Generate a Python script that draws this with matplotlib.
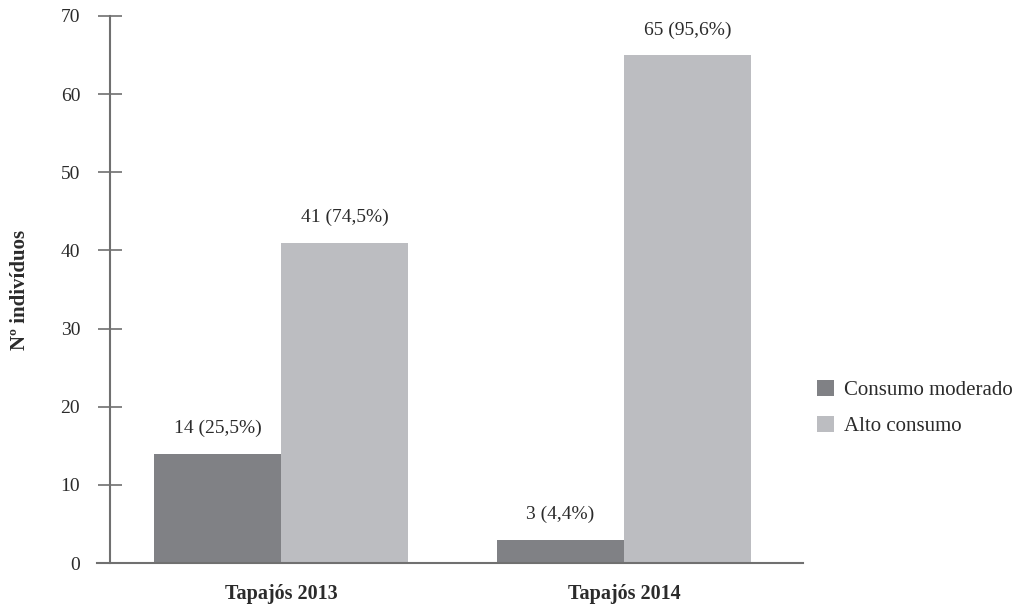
import numpy as np
import matplotlib
matplotlib.use("Agg")
import matplotlib.pyplot as plt

plt.rcParams['font.family'] = ['Liberation Serif', 'DejaVu Serif']

groups = ["Tapajós 2013", "Tapajós 2014"]
series = ["Consumo moderado", "Alto consumo"]
moderado = [14, 3]
alto = [41, 65]
moderado_pct = ["25,5%", "4,4%"]
alto_pct = ["74,5%", "95,6%"]

cores = ["#808185", "#bcbdc1"]
texto = "#2b2b2b"
eixo = "#707070"

fig = plt.figure(figsize=(10.25, 6.06), dpi=100)
ax = fig.add_axes([110 / 1025, 1 - 563 / 606, (803 - 110) / 1025, (563 - 16) / 606])

x = np.arange(len(groups))
w = 0.37
b1 = ax.bar(x - w / 2, moderado, w, color=cores[0], label=series[0], zorder=2)
b2 = ax.bar(x + w / 2, alto, w, color=cores[1], label=series[1], zorder=2)

# rótulos com valor e percentual acima das barras
for bars, vals, pcts in [(b1, moderado, moderado_pct), (b2, alto, alto_pct)]:
    for bar, v, p in zip(bars, vals, pcts):
        ax.annotate(f"{v} ({p})", (bar.get_x() + bar.get_width() / 2, v),
                    xytext=(0, 18), textcoords="offset points",
                    ha="center", va="center", fontsize=14, color=texto)

ax.set_xlim(-0.4985, 1.522)
ax.set_ylim(0, 70)
ax.set_yticks(range(0, 71, 10))
ax.set_xticks(x)
ax.set_xticklabels(groups, fontweight="bold", fontsize=14.5, color=texto)
ax.tick_params(axis="x", length=0, pad=15)
ax.tick_params(axis="y", direction="inout", length=17, width=1.2, color=eixo,
               labelsize=14, labelcolor=texto, pad=13)

for s in ["top", "right"]:
    ax.spines[s].set_visible(False)
for s in ["left", "bottom"]:
    ax.spines[s].set_color(eixo)
    ax.spines[s].set_linewidth(1.5)
ax.spines["bottom"].set_bounds(-0.536, 1.522)

ax.set_ylabel("Nº indivíduos", fontweight="bold", fontsize=15, color=texto, labelpad=22)

fig.legend(handles=[b1, b2], labels=series, loc="center left",
           bbox_to_anchor=(817 / 1025, 1 - 408 / 606), frameon=False,
           fontsize=15, handlelength=0.8, handleheight=0.8,
           handletextpad=0.5, labelspacing=0.75, borderpad=0, borderaxespad=0,
           labelcolor=texto)

fig.savefig("out.png", dpi=100)
